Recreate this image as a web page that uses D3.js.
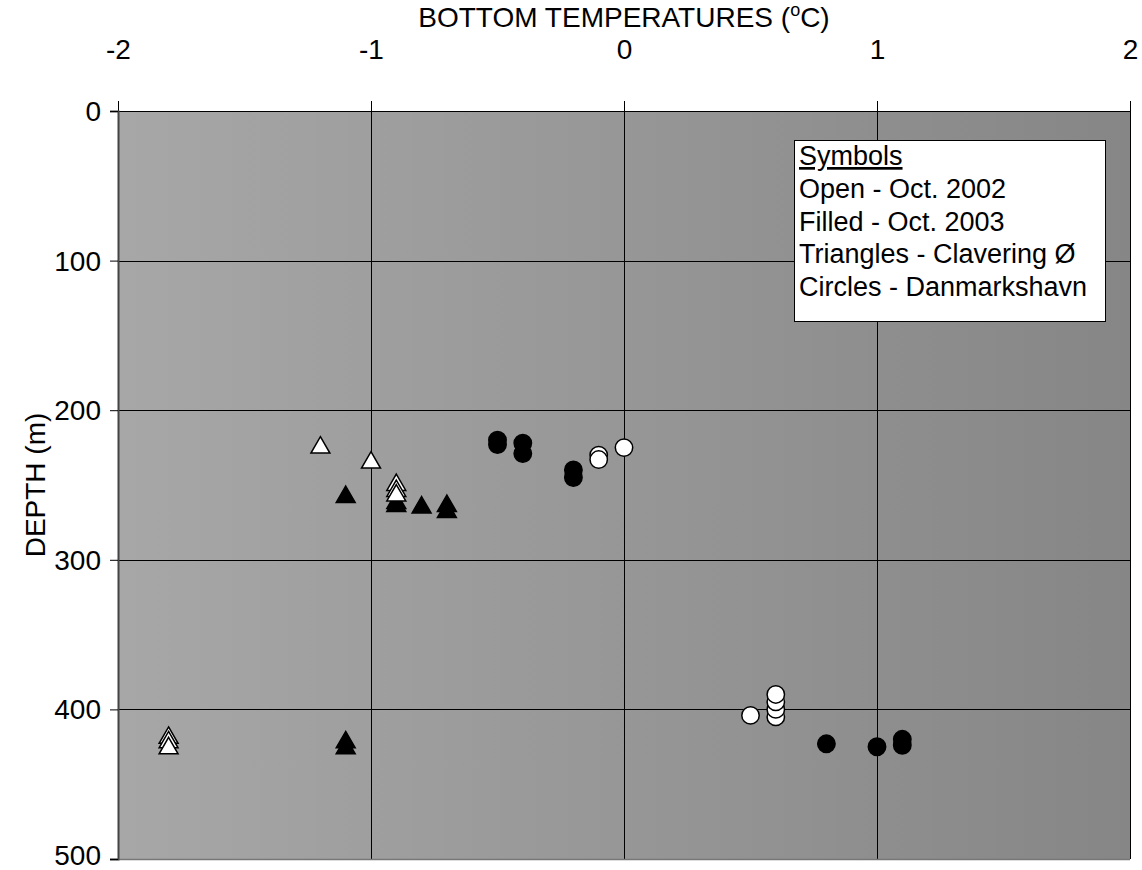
<!DOCTYPE html>
<html>
<head>
<meta charset="utf-8">
<script src="https://cdn.jsdelivr.net/npm/d3@7"></script>
<style>
  body { margin: 0; background: #ffffff; }
  text { font-family: "Liberation Sans", Arial, sans-serif; fill: #000; }
</style>
</head>
<body>
<svg id="chart" width="1142" height="870"></svg>
<script>
// axis ticks
let xTicks = [-2, -1, 0, 1, 2];
let yTicks = [0, 100, 200, 300, 400, 500];

// Clavering Ø (triangles)
let triOpenTemp  = [-1.2, -1.0, -0.9, -0.9, -0.9, -1.8, -1.8, -1.8];
let triOpenDepth = [225, 235, 250, 254, 257, 419, 422, 426];
let triFillTemp  = [-1.1, -0.9, -0.9, -0.8, -0.7, -0.7, -1.1, -1.1];
let triFillDepth = [258, 262, 264, 265, 264, 268, 422, 426];

// Danmarkshavn (circles)
let cirOpenTemp  = [-0.1, -0.1, 0, 0.5, 0.6, 0.6, 0.6, 0.6];
let cirOpenDepth = [230, 233, 225, 404, 405, 400, 395, 390];
let cirFillTemp  = [-0.5, -0.5, -0.4, -0.4, -0.2, -0.2, 0.8, 1.0, 1.1, 1.1];
let cirFillDepth = [220, 223, 222, 229, 240, 245, 423, 425, 420, 424];

let legendLines = ["Open - Oct. 2002", "Filled - Oct. 2003", "Triangles - Clavering \u00D8", "Circles - Danmarkshavn"];

function zip(a, b){ return a.map(function(d, i){ return {t: d, d: b[i]}; }); }

let chart = d3.select("#chart");
let margin = {left: 118, top: 111, right: 12, bottom: 11};
let width = 1142 - margin.left - margin.right;
let height = 870 - margin.top - margin.bottom;

let g = chart.append("g")
    .attr("transform", "translate(" + margin.left + "," + margin.top + ")");

//x,y scales
let x = d3.scaleLinear().domain([-2, 2]).range([0, width]);
let y = d3.scaleLinear().domain([0, 500]).range([0, height]);

//plot area gradient
let grad = chart.append("defs").append("linearGradient")
    .attr("id", "bg").attr("x1", "0%").attr("x2", "100%").attr("y1", "0%").attr("y2", "0%");
grad.append("stop").attr("offset", "0%").attr("stop-color", "#a7a7a7");
grad.append("stop").attr("offset", "100%").attr("stop-color", "#868686");

g.append("rect")
    .attr("x", 0).attr("y", 0)
    .attr("width", width).attr("height", height)
    .style("fill", "url(#bg)");

//grid lines
g.selectAll(".vgrid")
    .data(xTicks.slice(1))
    .enter()
    .append("line")
        .attr("x1", function(d){ return Math.round(x(d)) + 0.5; })
        .attr("x2", function(d){ return Math.round(x(d)) + 0.5; })
        .attr("y1", 0).attr("y2", height)
        .style("stroke", "#000").style("stroke-width", 1);

g.selectAll(".hgrid")
    .data(yTicks.slice(0, -1))
    .enter()
    .append("line")
        .attr("x1", 0).attr("x2", width)
        .attr("y1", function(d){ return Math.round(y(d)) + 0.5; })
        .attr("y2", function(d){ return Math.round(y(d)) + 0.5; })
        .style("stroke", "#000").style("stroke-width", 1);

// bottom edge
g.append("line")
    .attr("x1", -8).attr("x2", width)
    .attr("y1", height + 0.5).attr("y2", height + 0.5)
    .style("stroke", "#777").style("stroke-width", 1.5);

//axes (plain hyphen for negatives, like the original)
let fmt = function(d){ return String(d); };
let xAxis = g.append("g")
    .call(d3.axisTop(x).tickValues(xTicks).tickSize(10).tickFormat(fmt));
let yAxis = g.append("g")
    .call(d3.axisLeft(y).tickValues(yTicks).tickSize(8).tickFormat(fmt));

xAxis.select(".domain").style("stroke", "#000");
yAxis.select(".domain").style("stroke", "#444").style("stroke-width", 2);
chart.selectAll(".tick line").style("stroke", "#000");
xAxis.selectAll(".tick text").attr("dy", 0).attr("y", -52).style("font-size", "28px");
yAxis.selectAll(".tick text")
    .attr("x", -17)
    .attr("dy", "0.34em")
    .attr("y", function(d){ return d === 500 ? -4 : 0; })
    .style("font-size", "28px");
chart.selectAll(".tick text").style("font-family", "Liberation Sans, Arial, sans-serif").style("fill", "#000");

//axis titles
let title = chart.append("text")
    .attr("text-anchor", "middle")
    .attr("x", margin.left + width / 2)
    .attr("y", 27)
    .style("font-size", "28px");
title.append("tspan").text("BOTTOM TEMPERATURES (");
title.append("tspan").attr("dy", -11).style("font-size", "18px").text("o");
title.append("tspan").attr("dy", 11).text("C)");

chart.append("text")
    .attr("text-anchor", "middle")
    .attr("transform", "rotate(-90)")
    .attr("x", -(margin.top + height / 2))
    .attr("y", 45)
    .style("font-size", "28px")
    .text("DEPTH (m)");

//markers
let tri = d3.symbol().type(d3.symbolTriangle).size(155);

function drawTriangles(data, fill){
    g.selectAll(null)
        .data(data)
        .enter()
        .append("path")
            .attr("d", tri)
            .attr("transform", function(d){ return "translate(" + x(d.t) + "," + y(d.d) + ")"; })
            .style("fill", fill)
            .style("stroke", "#000")
            .style("stroke-width", 1.5);
}

function drawCircles(data, fill){
    g.selectAll(null)
        .data(data)
        .enter()
        .append("circle")
            .attr("cx", function(d){ return x(d.t); })
            .attr("cy", function(d){ return y(d.d); })
            .attr("r", 8.7)
            .style("fill", fill)
            .style("stroke", "#000")
            .style("stroke-width", 1.5);
}

drawTriangles(zip(triFillTemp, triFillDepth), "#000");
drawTriangles(zip(triOpenTemp, triOpenDepth), "#fff");
drawCircles(zip(cirFillTemp, cirFillDepth), "#000");
drawCircles(zip(cirOpenTemp, cirOpenDepth), "#fff");

//legend box
let lg = chart.append("g").attr("transform", "translate(794,140)");
lg.append("rect")
    .attr("x", 0.5).attr("y", 0.5)
    .attr("width", 311).attr("height", 181)
    .style("fill", "#fff").style("stroke", "#000").style("stroke-width", 1);

lg.append("text")
    .attr("x", 5).attr("y", 25)
    .style("font-size", "27px")
    .style("text-decoration", "underline")
    .text("Symbols");

lg.selectAll(".lgline")
    .data(legendLines)
    .enter()
    .append("text")
        .attr("x", 5)
        .attr("y", function(d, i){ return 58 + i * 32.7; })
        .style("font-size", "27px")
        .text(function(d){ return d; });
</script>
</body>
</html>
